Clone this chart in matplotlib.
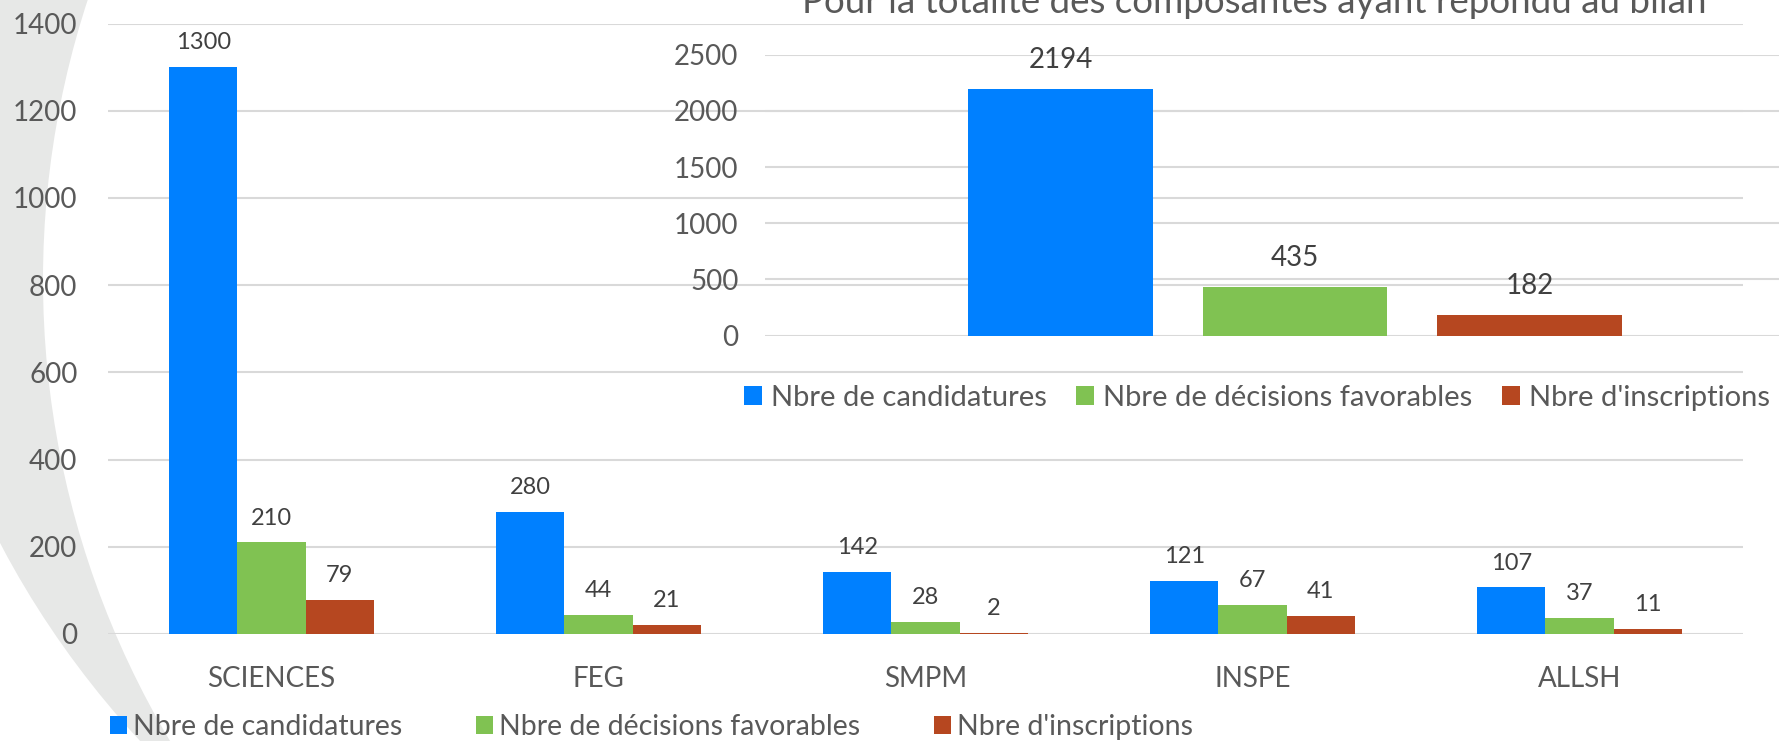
import matplotlib
matplotlib.use("Agg")
import matplotlib.pyplot as plt
import numpy as np
from matplotlib.patches import Ellipse, Rectangle
from matplotlib.transforms import Affine2D

plt.rcParams['font.family'] = ['Lato', 'DejaVu Sans']

# data
composantes = ['SCIENCES', 'FEG', 'SMPM', 'INSPE', 'ALLSH']
series = ['Nbre de candidatures', 'Nbre de décisions favorables', "Nbre d'inscriptions"]
candidatures = [1300, 280, 142, 121, 107]
favorables = [210, 44, 28, 67, 37]
inscriptions = [79, 21, 2, 41, 11]
totaux = [2194, 435, 182]
titre_total = "Pour la totalité des composantes ayant répondu au bilan"

colors = ['#0080ff', '#80c252', '#b64720']
grid_c = '#d9d9d9'
tick_c = '#595959'
lab_c = '#404040'

W, H = 1779, 741
fig = plt.figure(figsize=(W / 100, H / 100), dpi=100)

# pixel -> figure transform
pix = Affine2D().scale(1 / W, 1 / H) + fig.transFigure

# grey crescent in the background (left side only)
clip = Rectangle((-50, -50), 650, H + 100, transform=pix)
outer = Ellipse((943, H - 150), 2 * 1040.7, 2 * 929, facecolor='#e7e8e7',
                edgecolor='none', transform=pix, zorder=-10)
outer.set_clip_path(clip)
inner = Ellipse((943, H - 280), 2 * 900, 2 * 900, facecolor='white',
                edgecolor='none', transform=pix, zorder=-9)
fig.patches.extend([outer, inner])


def fbox(x0, y0, x1, y1):
    return [x0 / W, 1 - y1 / H, (x1 - x0) / W, (y1 - y0) / H]


# main chart
ax = fig.add_axes(fbox(108, 23.6, 1743, 634))
ax.set_facecolor('none')
x = np.arange(len(composantes))
bw = 0.208
for i, vals in enumerate([candidatures, favorables, inscriptions]):
    bars = ax.bar(x + (i - 1) * bw, vals, bw, color=colors[i], label=series[i], zorder=3)
    for b, v in zip(bars, vals):
        ax.annotate(str(v), (b.get_x() + b.get_width() / 2, v), xytext=(0, 17.5),
                    textcoords='offset points', ha='center', va='center',
                    fontsize=17, color=lab_c)
ax.set_xlim(-0.5, len(composantes) - 0.5)
ax.set_ylim(0, 1400)
ax.set_yticks(range(0, 1401, 200))
ax.set_xticks(x)
ax.set_xticklabels(composantes)
ax.grid(axis='y', color=grid_c, lw=1.5, zorder=0)
for s in ax.spines.values():
    s.set_visible(False)
ax.tick_params(axis='y', length=0, pad=22, labelsize=20, labelcolor=tick_c)
ax.tick_params(axis='x', length=0, pad=23, labelsize=20, labelcolor=tick_c)
ax.legend(loc='center left', bbox_to_anchor=(110 / W, 1 - 727 / H),
          bbox_transform=fig.transFigure, ncol=3, frameon=False, fontsize=20.5,
          handlelength=0.6, handleheight=0.6, handletextpad=0.22,
          columnspacing=2.58, borderpad=0, borderaxespad=0, labelcolor=tick_c)

# inset: totals
ax2 = fig.add_axes(fbox(765, 54.7, 1825, 335.6))
ax2.set_facecolor('none')
bw2 = 0.1745
for i, v in enumerate(totaux):
    b = ax2.bar((i - 1) * 0.2212, v, bw2, color=colors[i], label=series[i], zorder=3)[0]
    ax2.annotate(str(v), (b.get_x() + b.get_width() / 2, v), xytext=(0, 21),
                 textcoords='offset points', ha='center', va='center',
                 fontsize=20, color=lab_c)
ax2.set_xlim(-0.5, 0.5)
ax2.set_ylim(0, 2500)
ax2.set_yticks(range(0, 2501, 500))
ax2.set_xticks([])
ax2.grid(axis='y', color=grid_c, lw=1.5, zorder=0)
for s in ax2.spines.values():
    s.set_visible(False)
ax2.tick_params(axis='y', length=0, pad=19, labelsize=20, labelcolor=tick_c)
ax2.legend(loc='center left', bbox_to_anchor=(744 / W, 1 - 398 / H),
           bbox_transform=fig.transFigure, ncol=3, frameon=False, fontsize=21,
           handlelength=0.62, handleheight=0.62, handletextpad=0.31,
           columnspacing=1.0, borderpad=0, borderaxespad=0, labelcolor=tick_c)

# title of the inset, partly cut by the top edge as in the source picture
fig.text(1254 / W, 1 - 13 / H, titre_total, ha='center', va='baseline',
         fontsize=26.5, color=tick_c)

fig.savefig('out.png', dpi=100)
